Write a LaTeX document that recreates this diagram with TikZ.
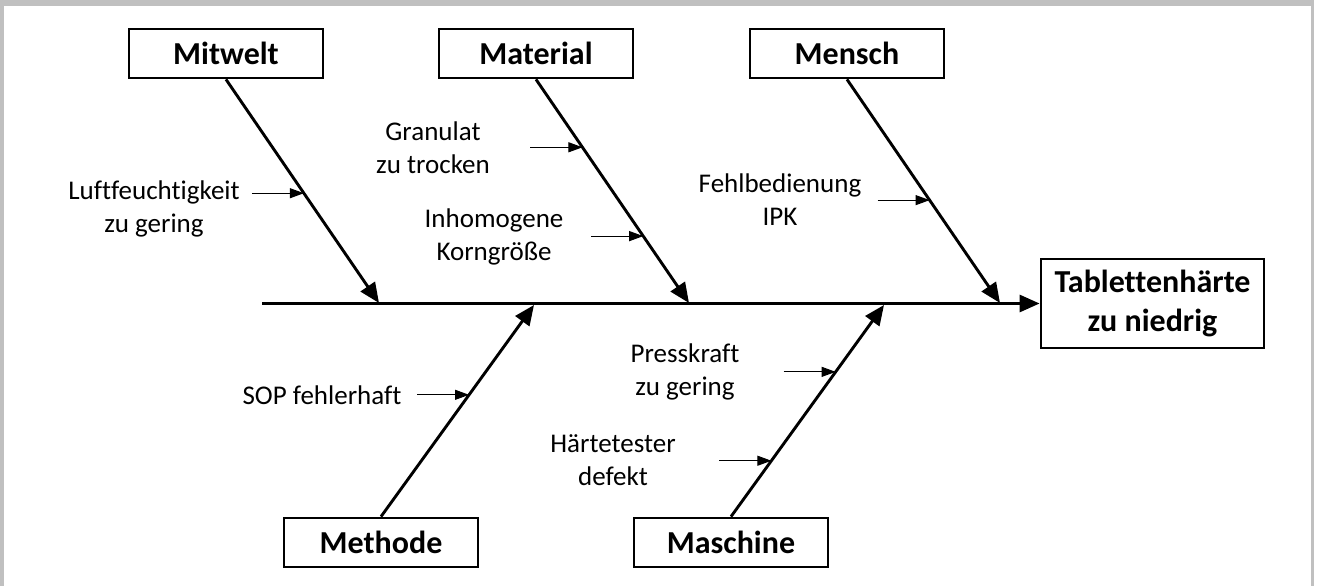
\documentclass[tikz,border=0pt]{standalone}
\usepackage{fontspec}
\setmainfont{Carlito}[Ligatures=NoCommon]
\usetikzlibrary{arrows.meta,calc}
\definecolor{framegray}{HTML}{C0C0C0}
\begin{document}
\begin{tikzpicture}[x=1pt,y=-1pt,
  catbox/.style={draw,line width=2.8pt,minimum width=194pt,minimum height=49pt,inner sep=0pt,
    font=\fontsize{32}{39}\selectfont\bfseries},
  effectbox/.style={draw,line width=2.8pt,minimum width=223pt,minimum height=89pt,inner sep=0pt,
    align=center,font=\fontsize{32}{39}\selectfont\bfseries},
  bone/.style={line width=2.9pt,-{Triangle[length=20pt,width=17pt]}},
  twig/.style={line width=1pt,-{Triangle[length=14pt,width=10pt]}},
  cause/.style={align=center,inner sep=0pt,font=\fontsize{27}{33}\selectfont}]
\useasboundingbox (0,0) rectangle (1318,586);
% page frame
\fill[framegray] (0,0) rectangle (1314,6);
\fill[framegray] (0,0) rectangle (4,586);
\fill[framegray] (1311,0) rectangle (1314,586);

% categories
\node[catbox] (mitwelt)  at (226,53.5) {Mitwelt};
\node[catbox] (material) at (536,53.5) {Material};
\node[catbox] (mensch)   at (847,53.5) {Mensch};
\node[catbox] (methode)  at (381,542.5) {Methode};
\node[catbox] (maschine) at (731,542.5) {Maschine};

% effect
\node[effectbox] (effekt) at (1152.5,303.5) {Tablettenhärte\\zu niedrig};

% spine
\coordinate (spinestart) at (262,303.5);
\draw[bone] (spinestart) -- (effekt.west);

% bone ends on the spine
\coordinate (tMitwelt)  at (379,303);
\coordinate (tMaterial) at (689,303);
\coordinate (tMensch)   at (1000,303);
\coordinate (tMethode)  at (534,305);
\coordinate (tMaschine) at (884,305);

\draw[bone] (mitwelt.south)  -- (tMitwelt);
\draw[bone] (material.south) -- (tMaterial);
\draw[bone] (mensch.south)   -- (tMensch);
\draw[bone] (methode.north)  -- (tMethode);
\draw[bone] (maschine.north) -- (tMaschine);

% points where the causes meet the bones
\coordinate (cLuft)  at ($(mitwelt.south)!0.509!(tMitwelt)$);
\coordinate (cGran)  at ($(material.south)!0.3036!(tMaterial)$);
\coordinate (cKorn)  at ($(material.south)!0.7009!(tMaterial)$);
\coordinate (cBed)   at ($(mensch.south)!0.540!(tMensch)$);
\coordinate (cSop)   at ($(methode.north)!0.5755!(tMethode)$);
\coordinate (cPress) at ($(maschine.north)!0.684!(tMaschine)$);
\coordinate (cHaert) at ($(maschine.north)!0.264!(tMaschine)$);

\foreach \c in {cLuft,cGran,cKorn,cBed,cSop,cPress,cHaert}{
  \coordinate (\c-s) at ($(\c)+(-52,0)$);
  \draw[twig] (\c-s) -- (\c);
}

% cause labels
\node[cause] (lLuft)  at (154,209)   {Luftfeuchtigkeit\\zu gering};
\node[cause] (lGran)  at (433,147.5) {Granulat\\zu trocken};
\node[cause] (lKorn)  at (494,236.5) {Inhomogene\\Korngröße};
\node[cause] (lBed)   at (780,200)   {Fehlbedienung\\IPK};
\node[cause] (lSop)   at (322,395)   {SOP fehlerhaft};
\node[cause] (lPress) at (685,372)   {Presskraft\\zu gering};
\node[cause] (lHaert) at (613,460)   {Härtetester\\defekt};
\end{tikzpicture}
\end{document}
